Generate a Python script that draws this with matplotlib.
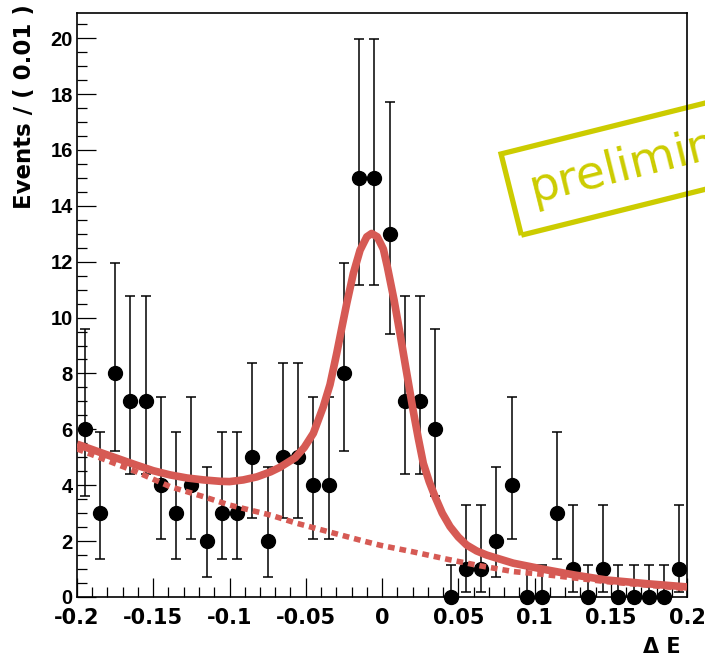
import numpy as np
import matplotlib
matplotlib.use("Agg")
import matplotlib.pyplot as plt
from matplotlib.ticker import MultipleLocator

# binned data, bin width 0.01
bin_centers = np.arange(-0.195, 0.2, 0.01)
counts = [6, 3, 8, 7, 7, 4, 3, 4, 2, 3,
          3, 5, 2, 5, 5, 4, 4, 8, 15, 15,
          13, 7, 7, 6, 0, 1, 1, 2, 4, 0,
          0, 3, 1, 0, 1, 0, 0, 0, 0, 1]

# asymmetric poisson interval (lower, upper) per count
poisson_lo = {0: 0.0, 1: 0.173, 2: 0.708, 3: 1.367, 4: 2.086, 5: 2.840,
              6: 3.620, 7: 4.419, 8: 5.232, 13: 9.43, 15: 11.17}
poisson_hi = {0: 1.148, 1: 3.300, 2: 4.638, 3: 5.918, 4: 7.163, 5: 8.382,
              6: 9.584, 7: 10.77, 8: 11.95, 13: 17.70, 15: 19.96}

# total fit curve
fit_x = [-0.200, -0.183, -0.172, -0.161, -0.150, -0.139, -0.128, -0.117,
         -0.106, -0.100, -0.091, -0.082, -0.073, -0.067, -0.057, -0.051,
         -0.045, -0.0385, -0.0341, -0.0297, -0.0264, -0.0231, -0.0188,
         -0.0144, -0.0100, -0.0068, -0.0031, 0.0009, 0.0035,
         0.0079, 0.0118, 0.0155, 0.0179, 0.0205, 0.0238, 0.0271, 0.031,
         0.0348, 0.0395, 0.0446, 0.050, 0.0555, 0.062, 0.0687, 0.0861,
         0.108, 0.127, 0.147, 0.175, 0.200]
fit_y = [5.47, 5.14, 4.93, 4.72, 4.52, 4.37, 4.26, 4.19,
         4.14, 4.13, 4.19, 4.30, 4.48, 4.64, 4.98, 5.35,
         5.86, 6.81, 7.60, 8.72, 9.62, 10.51, 11.58,
         12.41, 12.89, 13.01, 12.89, 12.45, 11.82,
         10.63, 9.43, 8.24, 7.48, 6.65, 5.68, 4.78, 4.12,
         3.59, 3.00, 2.52, 2.15, 1.86, 1.65, 1.50, 1.21,
         0.97, 0.78, 0.61, 0.47, 0.36]

# background component (dotted)
bkg_x = [-0.200, -0.161, -0.139, -0.117, -0.100, -0.073, -0.056, -0.012,
         -0.001, 0.020, 0.042, 0.064, 0.086, 0.104, 0.147, 0.200]
bkg_y = [5.30, 4.48, 3.95, 3.59, 3.29, 2.93, 2.64, 2.00,
         1.85, 1.62, 1.36, 1.12, 0.91, 0.82, 0.55, 0.30]

xtick_vals = [-0.2, -0.15, -0.1, -0.05, 0, 0.05, 0.1, 0.15, 0.2]
xtick_text = ["-0.2", "-0.15", "-0.1", "-0.05", "0", "0.05", "0.1", "0.15", "0.2"]
ytick_vals = list(range(0, 21, 2))

red = "#d65a54"
stamp = "#cccc00"

fig = plt.figure(figsize=(7.05, 6.55), dpi=100)
ax = fig.add_axes([77 / 705, 58 / 655, 610 / 705, 584 / 655])
ax.patch.set_alpha(0)

cnt = np.array(counts, dtype=float)
lo = np.array([poisson_lo[c] for c in counts])
hi = np.array([poisson_hi[c] for c in counts])
ax.errorbar(bin_centers, cnt, yerr=[cnt - lo, hi - cnt], fmt="none",
            ecolor="black", elinewidth=1.1, capsize=3.5, capthick=1.1,
            zorder=2)
ax.plot(bin_centers, cnt, "o", color="black", markersize=10, zorder=2,
        clip_on=False)

ax.plot(bkg_x, bkg_y, color=red, lw=4, linestyle=(0, (1.2, 0.9)), zorder=3)
ax.plot(fit_x, fit_y, color=red, lw=5.5, solid_capstyle="butt",
        solid_joinstyle="round", zorder=4)

ax.set_xlim(-0.2, 0.2)
ax.set_ylim(0, 20.9)
ax.set_xticks(xtick_vals, xtick_text, fontfamily="DejaVu Sans",
              fontweight="bold", fontsize=15)
ax.set_yticks(ytick_vals, [str(v) for v in ytick_vals],
              fontfamily="Liberation Sans", fontweight="bold", fontsize=14.5)
ax.xaxis.set_minor_locator(MultipleLocator(0.01))
ax.yaxis.set_minor_locator(MultipleLocator(0.5))
ax.tick_params(which="both", direction="in", top=False, right=False, width=0.9)
ax.tick_params(axis="both", which="major", length=13.5)
ax.tick_params(axis="x", which="major", pad=8)
ax.tick_params(axis="y", which="major", pad=3)
ax.tick_params(which="minor", length=7)
for s in ax.spines.values():
    s.set_linewidth(1.2)

fig.text(25 / 705, 1 - 4 / 655, "Events / ( 0.01 )", rotation=90,
         ha="center", va="top", fontfamily="DejaVu Sans",
         fontweight="bold", fontsize=16.5)
fig.text(681 / 705, 2 / 655, "\u0394 E", ha="right", va="baseline",
         fontfamily="DejaVu Sans", fontweight="bold", fontsize=15)

fig.text(533 / 705, 1 - 202 / 655, "preliminary", rotation=14,
         rotation_mode="anchor", ha="left", va="baseline",
         fontfamily="DejaVu Sans", fontsize=34, color=stamp, zorder=-1,
         bbox=dict(boxstyle="square,pad=0.41", fc="none", ec=stamp, lw=3.8))

fig.savefig("out.png", dpi=100)
